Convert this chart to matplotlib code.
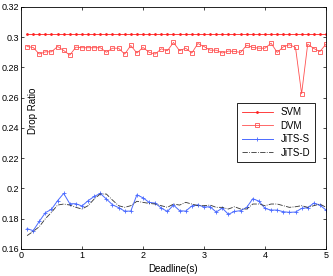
import matplotlib
matplotlib.use('Agg')
import matplotlib.pyplot as plt

plt.rcParams['font.family'] = ['Liberation Sans', 'DejaVu Sans']

# Deadline values (s)
deadline = [round(0.1 * i, 1) for i in range(1, 51)]

svm = [0.302] * 50

dvm = [0.2938, 0.2932, 0.2888, 0.2903, 0.2903, 0.2938, 0.2912, 0.2881, 0.2934, 0.2930,
       0.2930, 0.2930, 0.2930, 0.2900, 0.2927, 0.2927, 0.2888, 0.2945, 0.2895, 0.2932,
       0.2900, 0.2888, 0.2923, 0.2910, 0.2965, 0.2910, 0.2927, 0.2895, 0.2958, 0.2938,
       0.2914, 0.2914, 0.2895, 0.2908, 0.2906, 0.2899, 0.2947, 0.2932, 0.2927, 0.2927,
       0.2960, 0.2899, 0.2936, 0.2950, 0.2932, 0.2626, 0.2954, 0.2925, 0.2905, 0.2954]

jits_s = [0.1734, 0.1721, 0.1782, 0.1840, 0.1862, 0.1919, 0.1967, 0.1899, 0.1899, 0.1884,
          0.1919, 0.1947, 0.1967, 0.1930, 0.1892, 0.1873, 0.1850, 0.1850, 0.1958, 0.1938,
          0.1908, 0.1903, 0.1870, 0.1848, 0.1890, 0.1853, 0.1850, 0.1884, 0.1892, 0.1877,
          0.1879, 0.1844, 0.1870, 0.1829, 0.1848, 0.1853, 0.1875, 0.1932, 0.1916, 0.1868,
          0.1857, 0.1857, 0.1846, 0.1842, 0.1844, 0.1868, 0.1873, 0.1903, 0.1890, 0.1857]

jits_d = [0.1688, 0.1716, 0.1747, 0.1800, 0.1842, 0.1890, 0.1897, 0.1890, 0.1875, 0.1864,
          0.1886, 0.1930, 0.1963, 0.1963, 0.1923, 0.1886, 0.1875, 0.1886, 0.1915, 0.1908,
          0.1901, 0.1897, 0.1886, 0.1875, 0.1897, 0.1890, 0.1908, 0.1897, 0.1886, 0.1886,
          0.1890, 0.1875, 0.1875, 0.1864, 0.1879, 0.1864, 0.1864, 0.1897, 0.1897, 0.1886,
          0.1897, 0.1897, 0.1886, 0.1875, 0.1879, 0.1886, 0.1875, 0.1886, 0.1897, 0.1875]

fig = plt.figure(figsize=(3.33, 2.76), dpi=100)
ax = fig.add_axes([0.063, 0.098, 0.916, 0.877])

ax.plot(deadline, svm, color='#ff2020', lw=0.6, marker='.', ms=2, label='SVM')
ax.plot(deadline, dvm, color='#ff5050', lw=0.6, marker='s', ms=3.2,
        mfc='none', mew=0.6, label='DVM')
ax.plot(deadline, jits_s, color='#4a6aff', lw=0.7, marker='+', ms=3.5,
        mew=0.6, label='JiTS-S')
ax.plot(deadline, jits_d, color='#333333', lw=0.6, ls='-.', label='JiTS-D')

ax.set_xlim(0, 5)
ax.set_ylim(0.16, 0.32)
ax.set_xticks([0, 1, 2, 3, 4, 5])
ax.set_yticks([0.16, 0.18, 0.2, 0.22, 0.24, 0.26, 0.28, 0.3, 0.32])
ax.set_yticklabels(['0.16', '0.18', '0.2', '0.22', '0.24', '0.26', '0.28', '0.3', '0.32'])
ax.tick_params(direction='in', top=True, right=True, labelsize=6.5,
               length=2.5, width=0.5, pad=1.5)
for s in ax.spines.values():
    s.set_linewidth(0.6)

ax.text(0.04, 0.57, 'Drop Ratio', rotation=90, transform=ax.transAxes,
        fontsize=7, ha='center', va='center')
ax.set_xlabel('Deadline(s)', fontsize=7, labelpad=3)

leg = ax.legend(loc='upper left', bbox_to_anchor=(0.708, 0.605), fontsize=7,
                frameon=True, fancybox=False, edgecolor='black', framealpha=1,
                borderpad=0.5, labelspacing=0.35, handlelength=3.2,
                handletextpad=0.8, borderaxespad=0)
leg.get_frame().set_linewidth(0.6)

fig.savefig('out.png', dpi=100)
